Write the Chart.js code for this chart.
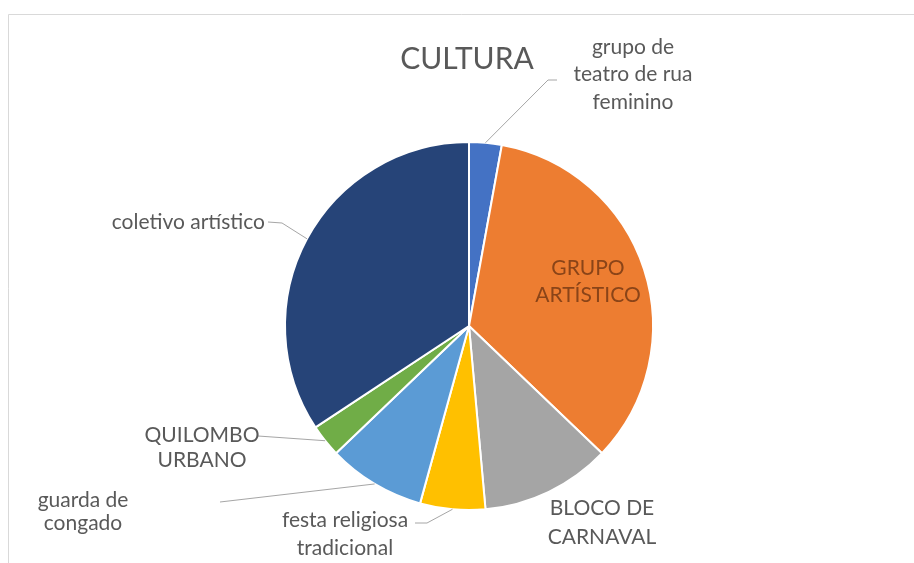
<!DOCTYPE html>
<html>
<head>
<meta charset="utf-8">
<script src="https://cdn.jsdelivr.net/npm/chart.js@4/dist/chart.umd.min.js"></script>
<style>
  html, body { margin: 0; padding: 0; background: #ffffff; }
  #wrap { width: 914px; height: 563px; position: relative; }
</style>
</head>
<body>
<div id="wrap"><canvas id="c" width="914" height="563"></canvas></div>
<script>
// Categories and counts, clockwise from 12 o'clock
const categories = [
  'grupo de teatro de rua feminino',
  'GRUPO ARTÍSTICO',
  'BLOCO DE CARNAVAL',
  'festa religiosa tradicional',
  'guarda de congado',
  'QUILOMBO URBANO',
  'coletivo artístico'
];
const counts = [1, 12, 4, 2, 3, 1, 12];
const sliceColors = ['#4472C4', '#ED7D31', '#A5A5A5', '#FFC000', '#5B9BD5', '#70AD47', '#264478'];

// Wrapped label text, one entry per category
const labelLines = [
  ['grupo de', 'teatro de rua', 'feminino'],
  ['GRUPO', 'ARTÍSTICO'],
  ['BLOCO DE', 'CARNAVAL'],
  ['festa religiosa', 'tradicional'],
  ['guarda de', 'congado'],
  ['QUILOMBO', 'URBANO'],
  ['coletivo artístico']
];

// Label placement relative to the pie centre: text anchor (dx, dy of first line),
// alignment, line height, and an optional leader line start (relative to centre)
const labelLayout = [
  { dx: 164, dy: -279, align: 'center', lh: 27.5, leader: [[88, -246], [79, -246]] },
  { dx: 119, dy: -58, align: 'center', lh: 27, color: '#8a4418' },
  { dx: 133, dy: 182, align: 'center', lh: 29 },
  { dx: -124, dy: 194, align: 'center', lh: 28, leader: [[-54, 197], [-42, 197]] },
  { dx: -386, dy: 174, align: 'center', lh: 23, leader: [[-249, 176]] },
  { dx: -267, dy: 109, align: 'center', lh: 25, leader: [[-211, 110]] },
  { dx: -204, dy: -104, align: 'right', lh: 26, leader: [[-201, -104], [-187, -103]] }
];

const FONT = 'Lato, "Open Sans", sans-serif';
const TEXT = '#595959';

const frame = {
  id: 'frame',
  beforeDraw(chart) {
    const ctx = chart.ctx;
    ctx.save();
    ctx.fillStyle = '#ffffff';
    ctx.fillRect(0, 0, chart.width, chart.height);
    ctx.strokeStyle = '#d9d9d9';
    ctx.lineWidth = 1;
    ctx.beginPath();
    ctx.moveTo(8.5, chart.height);
    ctx.lineTo(8.5, 14.5);
    ctx.lineTo(chart.width, 14.5);
    ctx.stroke();
    ctx.restore();
  }
};

const sliceLabels = {
  id: 'sliceLabels',
  afterDatasetsDraw(chart) {
    const ctx = chart.ctx;
    const meta = chart.getDatasetMeta(0);
    ctx.save();
    meta.data.forEach((arc, i) => {
      const p = arc.getProps(['x', 'y', 'startAngle', 'endAngle', 'outerRadius'], true);
      const L = labelLayout[i];
      const mid = (p.startAngle + p.endAngle) / 2;
      const ax = p.x + Math.cos(mid) * p.outerRadius;
      const ay = p.y + Math.sin(mid) * p.outerRadius;
      if (L.leader) {
        ctx.strokeStyle = '#a6a6a6';
        ctx.lineWidth = 1;
        ctx.beginPath();
        L.leader.forEach((pt, k) => {
          const px = p.x + pt[0], py = p.y + pt[1];
          if (k === 0) ctx.moveTo(px, py); else ctx.lineTo(px, py);
        });
        ctx.lineTo(ax, ay);
        ctx.stroke();
      }
      ctx.fillStyle = L.color || TEXT;
      ctx.font = '21px ' + FONT;
      ctx.textAlign = L.align;
      ctx.textBaseline = 'middle';
      labelLines[i].forEach((line, k) => {
        ctx.fillText(line, p.x + L.dx, p.y + L.dy + k * L.lh);
      });
    });
    ctx.restore();
  }
};

new Chart(document.getElementById('c'), {
  type: 'pie',
  data: {
    labels: categories,
    datasets: [{
      data: counts,
      backgroundColor: sliceColors,
      borderColor: '#ffffff',
      borderWidth: 2,
      radius: 184
    }]
  },
  options: {
    responsive: false,
    animation: false,
    layout: { padding: { top: 142, bottom: 53, left: 285, right: 261 } },
    plugins: {
      legend: { display: false },
      tooltip: { enabled: false },
      title: {
        display: false
      }
    }
  },
  plugins: [frame, sliceLabels, {
    id: 'heading',
    afterDraw(chart) {
      const ctx = chart.ctx;
      ctx.save();
      ctx.fillStyle = TEXT;
      ctx.font = '30px ' + FONT;
      ctx.textAlign = 'center';
      ctx.textBaseline = 'middle';
      ctx.fillText('CULTURA', 467, 59);
      ctx.restore();
    }
  }]
});
</script>
</body>
</html>
